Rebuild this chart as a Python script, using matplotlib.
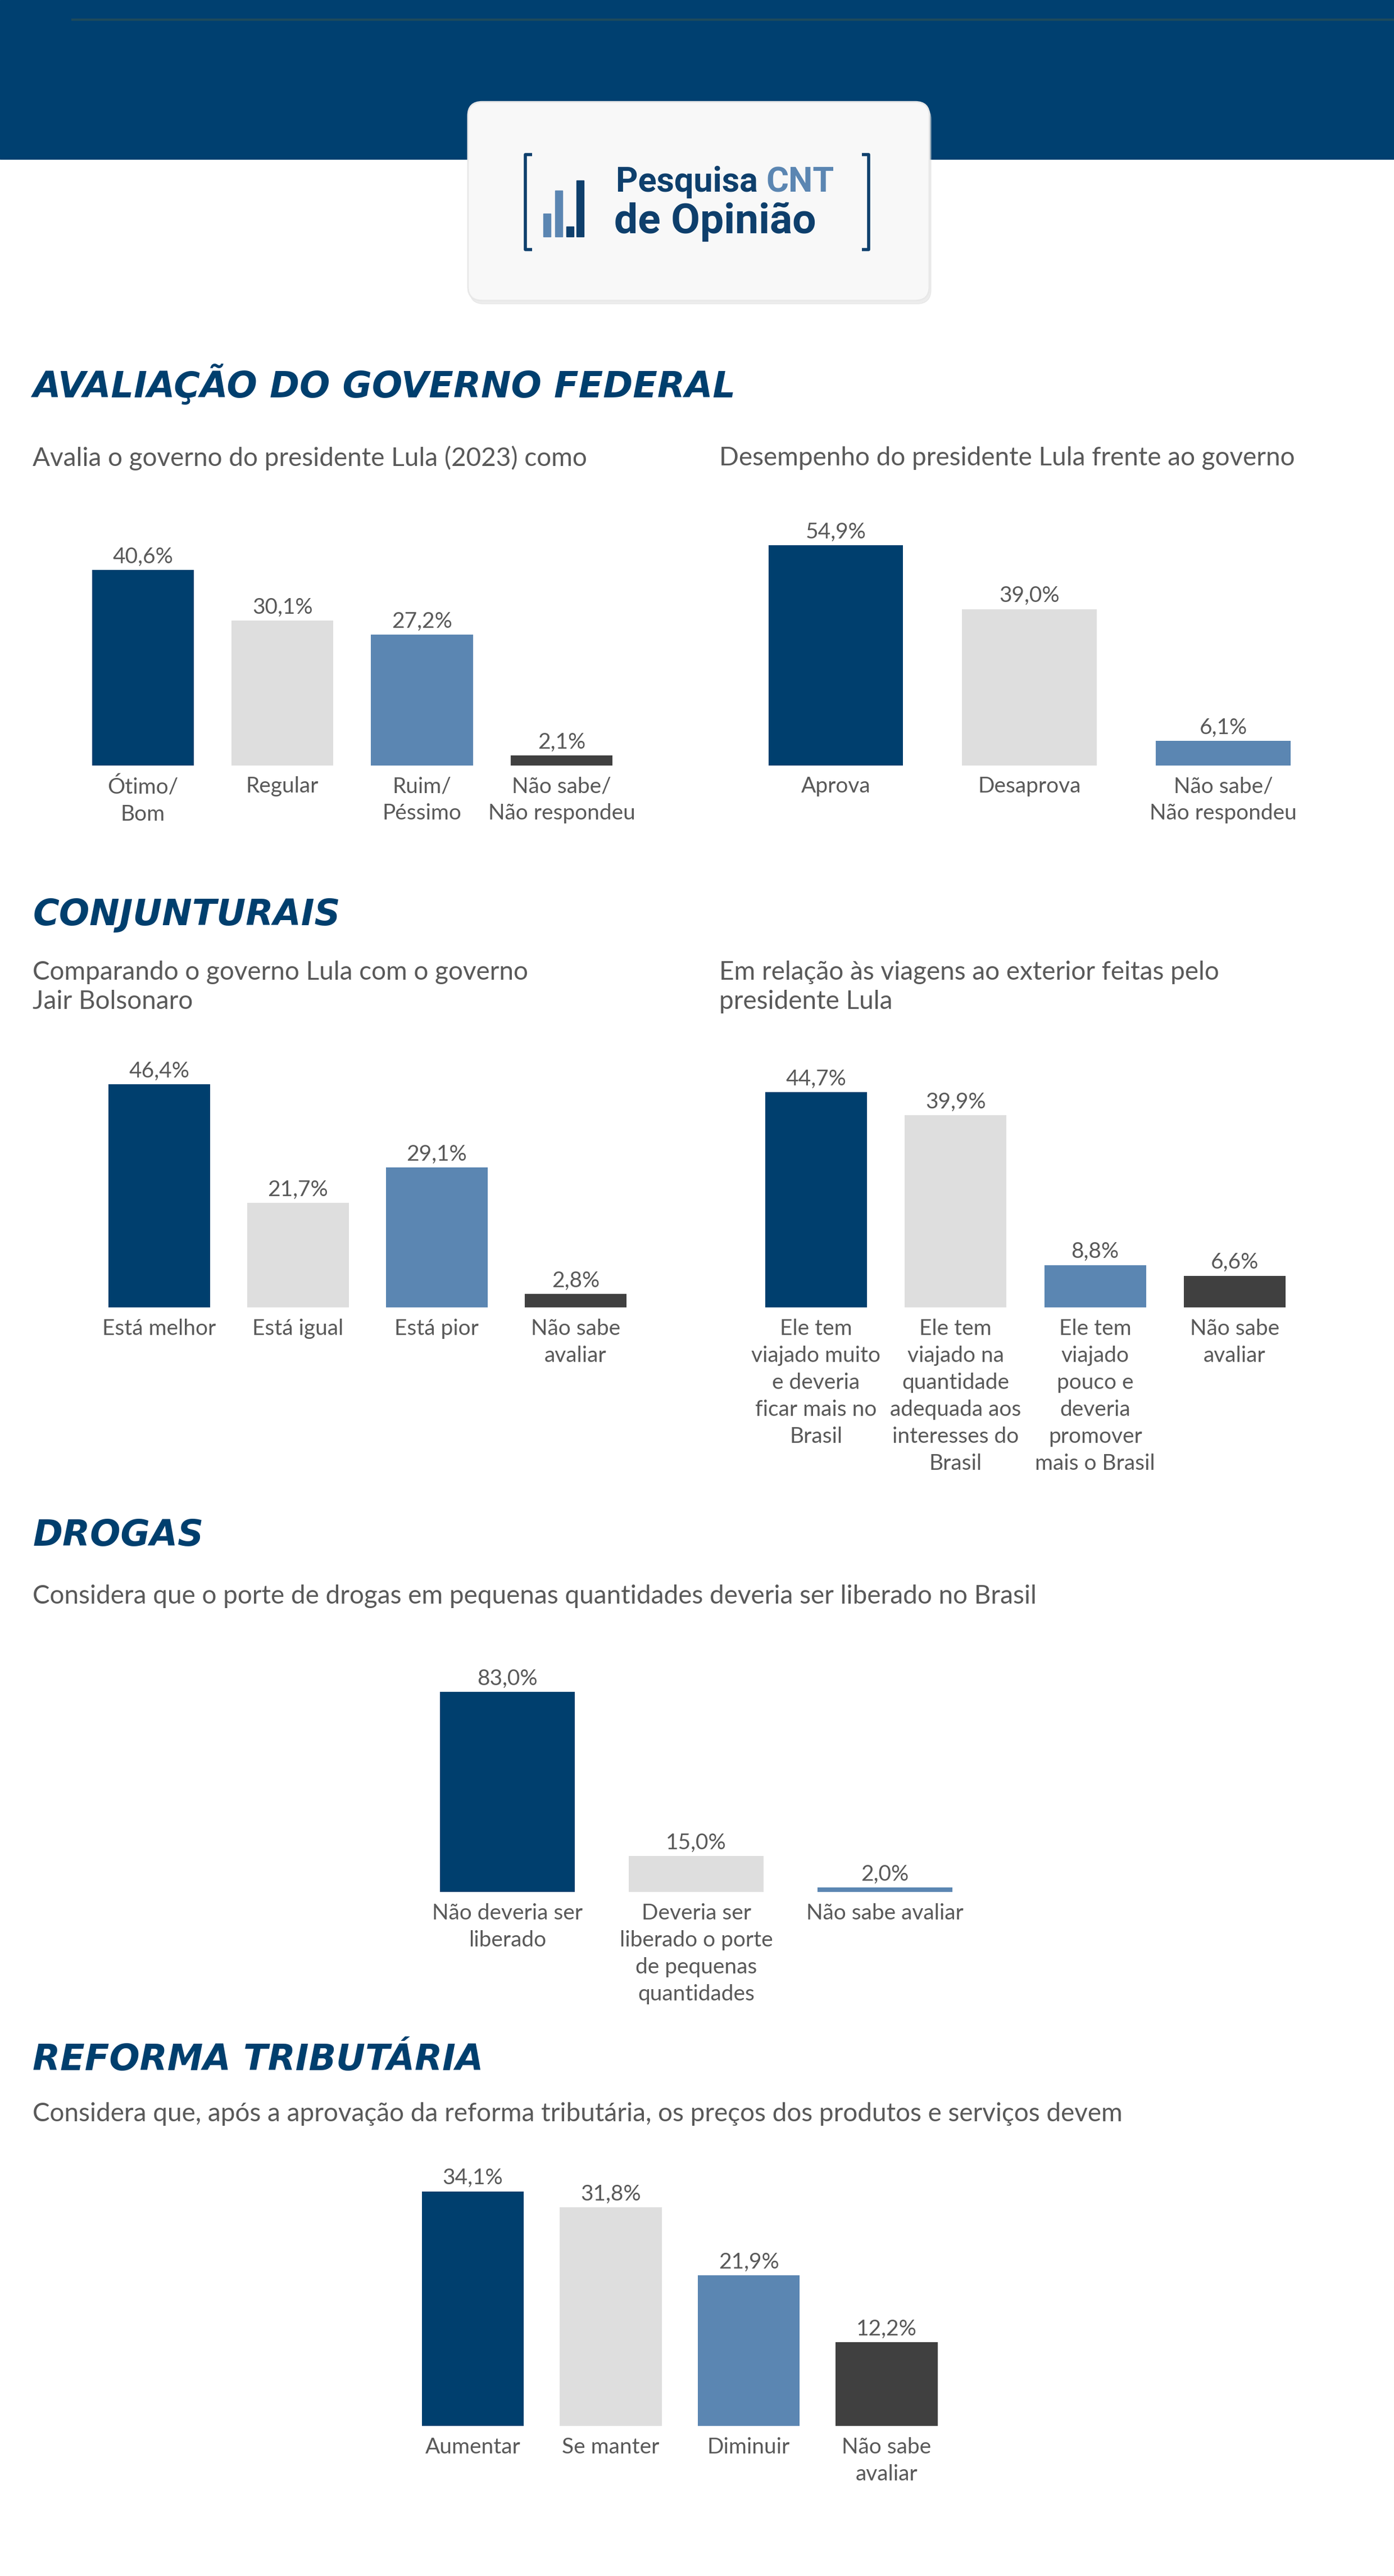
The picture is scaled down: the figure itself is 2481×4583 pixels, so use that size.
import matplotlib.pyplot as plt
from matplotlib.patches import FancyBboxPatch, Rectangle

W, H = 2481, 4583
S = W / 849.0  # reference was read at 849 px width

DARK = '#003f6e'
LIGHT = '#dedede'
MID = '#5b86b2'
GRAY = '#404040'
TXT = '#595959'
COLORS = [DARK, LIGHT, MID, GRAY]

# data
gov_cats = ['Ótimo/\nBom', 'Regular', 'Ruim/\nPéssimo', 'Não sabe/\nNão respondeu']
gov_vals = [40.6, 30.1, 27.2, 2.1]
des_cats = ['Aprova', 'Desaprova', 'Não sabe/\nNão respondeu']
des_vals = [54.9, 39.0, 6.1]
comp_cats = ['Está melhor', 'Está igual', 'Está pior', 'Não sabe\navaliar']
comp_vals = [46.4, 21.7, 29.1, 2.8]
viag_cats = ['Ele tem\nviajado muito\ne deveria\nficar mais no\nBrasil',
             'Ele tem\nviajado na\nquantidade\nadequada aos\ninteresses do\nBrasil',
             'Ele tem\nviajado\npouco e\ndeveria\npromover\nmais o Brasil',
             'Não sabe\navaliar']
viag_vals = [44.7, 39.9, 8.8, 6.6]
drog_cats = ['Não deveria ser\nliberado', 'Deveria ser\nliberado o porte\nde pequenas\nquantidades',
             'Não sabe avaliar']
drog_vals = [83.0, 15.0, 2.0]
ref_cats = ['Aumentar', 'Se manter', 'Diminuir', 'Não sabe\navaliar']
ref_vals = [34.1, 31.8, 21.9, 12.2]

FONT = 'Lato'

fig = plt.figure(figsize=(W / 100, H / 100), dpi=100)
bg = fig.add_axes([0, 0, 1, 1])
bg.set_xlim(0, W)
bg.set_ylim(H, 0)
bg.axis('off')

# header band
bg.add_patch(Rectangle((0, 0), W, 97 * S, color='#004070', zorder=0))
bg.plot([44 * S, W], [12 * S, 12 * S], color='#1d4a5c', lw=3, zorder=1)

# logo card
bg.add_patch(FancyBboxPatch((286 * S, 64 * S), 281 * S, 121 * S, boxstyle='round,pad=0,rounding_size=25',
                            color='#dcdcdc', alpha=0.5, zorder=2))
bg.add_patch(FancyBboxPatch((285 * S, 62 * S), 281 * S, 121 * S, boxstyle='round,pad=0,rounding_size=25',
                            facecolor='#f8f8f8', edgecolor='#e8e8e8', lw=2, zorder=3))
lc = '#0e3f6c'
for x0, sgn in [(320, 1), (529, -1)]:
    bg.plot([x0 * S + sgn * 12, x0 * S, x0 * S, x0 * S + sgn * 12],
            [94 * S, 94 * S, 152 * S, 152 * S], color=lc, lw=4, zorder=4, solid_capstyle='butt')
for bx, bt, c in [(331, 130, MID), (338, 116, MID), (345, 138, lc), (351, 110, lc)]:
    bg.add_patch(Rectangle((bx * S, bt * S), 4.5 * S, (144 - bt) * S, color=c, zorder=4))
t1 = bg.text(375 * S, 111 * S, 'Pesquisa ', color=lc, fontsize=44, fontweight='bold', family='Roboto',
             va='center', ha='left', zorder=5)
bg.annotate('CNT', xycoords=t1, xy=(1, 0.5), va='center', ha='left', color=MID, fontsize=44,
            fontweight='bold', family='Roboto', zorder=5)
bg.text(374 * S, 135 * S, 'de Opinião', color=lc, fontsize=54, fontweight='bold', family='Roboto',
        va='center', ha='left', zorder=5)

# section titles
for ty, t in [(234, 'AVALIAÇÃO DO GOVERNO FEDERAL'), (557, 'CONJUNTURAIS'),
              (935, 'DROGAS'), (1254, 'REFORMA TRIBUTÁRIA')]:
    bg.text(20 * S, ty * S, t, color=DARK, fontsize=46, fontweight='semibold', style='italic',
            family='DejaVu Sans', va='center', ha='left')

subs = [(20, 279, 'Avalia o governo do presidente Lula (2023) como'),
        (438, 279, 'Desempenho do presidente Lula frente ao governo'),
        (20, 601, 'Comparando o governo Lula com o governo\nJair Bolsonaro'),
        (438, 601, 'Em relação às viagens ao exterior feitas pelo\npresidente Lula'),
        (20, 972, 'Considera que o porte de drogas em pequenas quantidades deveria ser liberado no Brasil'),
        (20, 1287, 'Considera que, após a aprovação da reforma tributária, os preços dos produtos e serviços devem')]
for sx, sy, t in subs:
    bg.text(sx * S, sy * S, t, color=TXT, fontsize=33, family=FONT, va='center', ha='left',
            linespacing=1.3)


def bar_chart(cats, vals, c0, sp, base, ppp, bw):
    n = len(vals)
    left = (c0 - sp / 2) * S
    width = n * sp * S
    top_val = max(vals) * 1.25
    h = top_val * ppp * S
    ax = fig.add_axes([left / W, (H - base * S) / H, width / W, h / H])
    ax.set_xlim(-0.5, n - 0.5)
    ax.set_ylim(0, top_val)
    ax.axis('off')
    xs = list(range(n))
    ax.bar(xs, vals, width=bw / sp, color=COLORS[:n])
    for i, v in enumerate(vals):
        ax.annotate(f'{v:.1f}%'.replace('.', ','), xy=(i, v), xytext=(0, 4), textcoords='offset points',
                    ha='center', va='bottom', fontsize=28, color=TXT, family=FONT)
        ax.annotate(cats[i], xy=(i, 0), xytext=(0, -14), textcoords='offset points', ha='center',
                    va='top', fontsize=28, color=TXT, family=FONT, linespacing=1.42,
                    annotation_clip=False)
    return ax


bar_chart(gov_cats, gov_vals, 87, 85, 466, 2.93, 62)
bar_chart(des_cats, des_vals, 509, 118, 466, 2.44, 82)
bar_chart(comp_cats, comp_vals, 97, 84.5, 796, 2.93, 62)
bar_chart(viag_cats, viag_vals, 497, 85, 796, 2.93, 62)
bar_chart(drog_cats, drog_vals, 309, 115, 1152, 1.47, 82)
bar_chart(ref_cats, ref_vals, 288, 84, 1477, 4.19, 62)

fig.savefig('out.png', dpi=100)
